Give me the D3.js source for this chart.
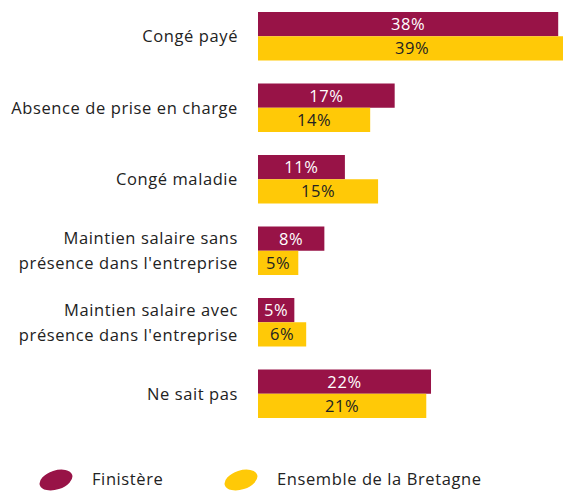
<!DOCTYPE html>
<html>
<head>
<meta charset="utf-8">
<script src="https://cdn.jsdelivr.net/npm/d3@7"></script>
<style>
  body { margin: 0; background: #fff; }
  text { font-family: "Open Sans", sans-serif; letter-spacing: 0.6px; }
</style>
</head>
<body>
<div id="chart"></div>
<script>
// categories (two lines where the label wraps)
var categories = [
    ["Congé payé"],
    ["Absence de prise en charge"],
    ["Congé maladie"],
    ["Maintien salaire sans", "présence dans l'entreprise"],
    ["Maintien salaire avec", "présence dans l'entreprise"],
    ["Ne sait pas"]
];
var finistere = [38.0, 17.3, 11.0, 8.4, 4.6, 21.9];
var bretagne  = [39.0, 14.2, 15.2, 5.1, 6.1, 21.3];
var seriesNames = ["Finistère", "Ensemble de la Bretagne"];
var colors = ["#981347", "#FFC907"];
var textColors = ["#ffffff", "#222222"];

var width = 563, height = 491;
var margin = { top: 12, left: 258 };

var svg = d3.select("#chart").append("svg")
    .attr("width", width)
    .attr("height", height);

// set the ranges
var step = 71.5, gap = 23;
var x = d3.scaleLinear().domain([0, 40]).range([0, 316]);
var y = d3.scaleBand()
    .domain(d3.range(categories.length))
    .range([0, step * categories.length - gap])
    .paddingInner(gap / step)
    .paddingOuter(0);
var sub = d3.scaleBand().domain([0, 1]).range([0, y.bandwidth()]);

var g = svg.append("g")
    .attr("transform", "translate(" + margin.left + "," + margin.top + ")");

var groups = g.selectAll(".grp")
    .data(categories)
    .enter().append("g")
    .attr("class", "grp")
    .attr("transform", function(d, i) { return "translate(0," + y(i) + ")"; });

// category labels
groups.append("text")
    .attr("text-anchor", "end")
    .attr("fill", "#222")
    .style("font-size", "16.5px")
    .each(function(lines) {
        var t = d3.select(this);
        var lh = 25;
        var y0 = y.bandwidth() / 2 - (lines.length - 1) * lh / 2 + 6;
        lines.forEach(function(l, k) {
            t.append("tspan").attr("x", -20).attr("y", y0 + k * lh).text(l);
        });
    });

// bars
[finistere, bretagne].forEach(function(vals, s) {
    groups.append("rect")
        .attr("x", 0)
        .attr("y", sub(s))
        .attr("height", sub.bandwidth())
        .attr("width", function(d, i) { return x(vals[i]); })
        .attr("fill", colors[s]);
    groups.append("text")
        .attr("x", function(d, i) { return x(vals[i]) / 2; })
        .attr("y", sub(s) + sub.bandwidth() / 2 + 6)
        .attr("text-anchor", "middle")
        .attr("fill", textColors[s])
        .style("font-size", "16.5px")
        .text(function(d, i) { return Math.round(vals[i]) + "%"; });
});

// legend
var legendX = [56, 241];
var legend = svg.selectAll(".legend")
    .data(seriesNames)
    .enter().append("g")
    .attr("class", "legend")
    .attr("transform", function(d, i) { return "translate(" + legendX[i] + ",480)"; });

legend.append("ellipse")
    .attr("rx", 17)
    .attr("ry", 9.5)
    .attr("transform", "rotate(-18)")
    .attr("fill", function(d, i) { return colors[i]; });

legend.append("text")
    .attr("x", 36)
    .attr("y", 5)
    .attr("fill", "#222")
    .style("font-size", "16.5px")
    .text(function(d) { return d; });
</script>
</body>
</html>
